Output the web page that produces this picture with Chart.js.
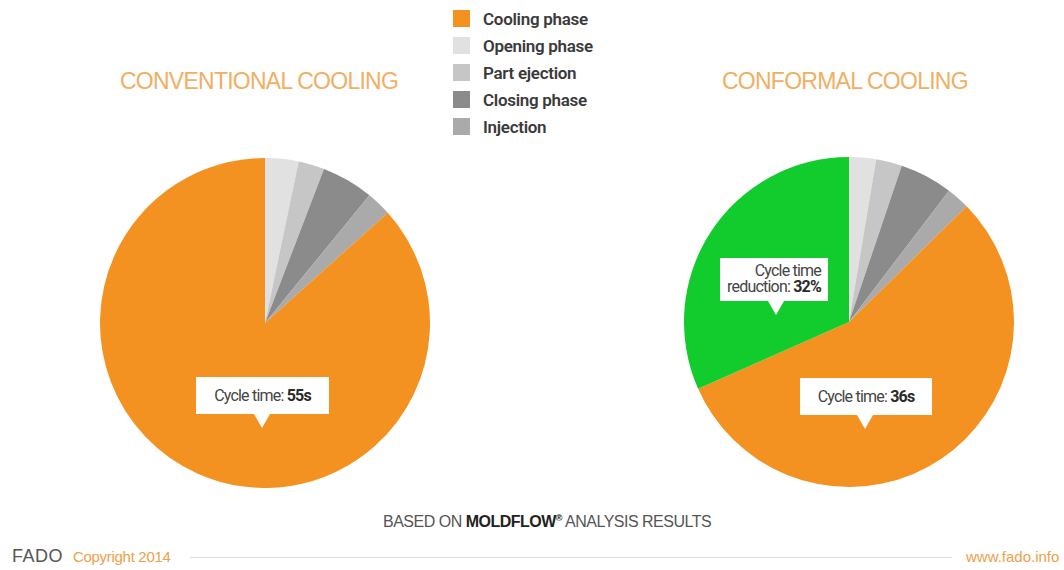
<!DOCTYPE html>
<html lang="en">
<head>
  <meta charset="UTF-8">
  <title>Conventional vs Conformal Cooling</title>
  <script src="https://cdn.jsdelivr.net/npm/chart.js"></script>
  <style>
    body { margin: 0; background: #fff; width: 1064px; height: 570px; position: relative; overflow: hidden; font-family: Roboto, "Liberation Sans", sans-serif; }
    canvas { position: absolute; }
    .title { position: absolute; top: 68px; color: #F2AE62; font-family: "Liberation Sans", sans-serif; font-size: 23px; letter-spacing: -0.75px; font-weight: 400; white-space: nowrap; }
    #legend { position: absolute; left: 453px; top: 5px; }
    .row { height: 27px; display: flex; align-items: center; }
    .sw { width: 17px; height: 17px; margin-right: 13px; }
    .row span { font-size: 17px; font-weight: 600; color: #3a3a3a; letter-spacing: -0.3px; }
    .callout { position: absolute; background: #fff; color: #444; font-size: 16px; letter-spacing: -0.8px; box-sizing: border-box; }
    .callout b { color: #2a2a2a; }
    .callout::after { content: ""; position: absolute; left: var(--tip); margin-left: -8px; bottom: -14px; border-left: 8px solid transparent; border-right: 8px solid transparent; border-top: 14px solid #fff; }
    .foot { position: absolute; font-family: "Liberation Sans", sans-serif; white-space: nowrap; }
  </style>
</head>
<body>
  <div class="title" style="left:120px">CONVENTIONAL COOLING</div>
  <div class="title" style="left:722px">CONFORMAL COOLING</div>
  <div id="legend"></div>

  <canvas id="pie-left" width="330" height="330" style="left:100px; top:158px"></canvas>
  <canvas id="pie-right" width="330" height="330" style="left:684px; top:157px"></canvas>

  <div class="callout" style="left:196px; top:377px; width:133px; height:37px; line-height:37px; text-align:center; --tip:66px">Cycle time: <b>55s</b></div>
  <div class="callout" style="left:720px; top:258px; width:108px; height:43px; padding:5px 7px 0 0; line-height:16px; text-align:right; --tip:56px">Cycle time<br>reduction: <b>32%</b></div>
  <div class="callout" style="left:800px; top:378px; width:132px; height:37px; line-height:37px; text-align:center; --tip:65px">Cycle time: <b>36s</b></div>

  <div class="foot" style="left:383px; top:513px; font-size:16px; color:#555; letter-spacing:-0.5px">BASED ON <b style="color:#222">MOLDFLOW<sup style="font-size:9px">®</sup></b> ANALYSIS RESULTS</div>
  <div class="foot" style="left:12px; top:546px; font-size:18px; color:#555; letter-spacing:0.5px; font-weight:300">FADO</div>
  <div class="foot" style="left:73px; top:548px; font-size:15px; color:#F0A04A; letter-spacing:-0.3px">Copyright 2014</div>
  <div class="foot" style="left:190px; top:557px; width:762px; height:1px; background:#ddd"></div>
  <div class="foot" style="left:966px; top:548px; font-size:15px; color:#F0A04A; letter-spacing:0px">www.fado.info</div>

  <script>
    // slices drawn clockwise from 12 o'clock, values in seconds
    const phases = ["Opening phase", "Part ejection", "Closing phase", "Injection", "Cooling phase"];
    const conventional = [1.8, 1.4, 2.8, 1.35, 47.65];
    const conformal = [1.45, 1.4, 2.85, 1.25, 30.65, 17.4];   // last = saved time (reduction)
    const phaseColors = ["#E1E1E1", "#C6C6C6", "#8B8B8B", "#AAAAAA", "#F39220"];
    const reductionColor = "#12CB2C";

    // legend order as in the original slide
    const legendOrder = ["Cooling phase", "Opening phase", "Part ejection", "Closing phase", "Injection"];

    const legend = document.getElementById("legend");
    legendOrder.forEach(name => {
      const row = document.createElement("div");
      row.className = "row";
      row.innerHTML = `<div class="sw" style="background:${phaseColors[phases.indexOf(name)]}"></div><span>${name}</span>`;
      legend.appendChild(row);
    });

    function makePie(id, labels, values, colors) {
      return new Chart(document.getElementById(id), {
        type: 'pie',
        data: {
          labels: labels,
          datasets: [{ data: values, backgroundColor: colors, borderWidth: 0, hoverOffset: 0 }]
        },
        options: {
          responsive: false,
          animation: false,
          events: [],
          layout: { padding: 0 },
          plugins: { legend: { display: false }, tooltip: { enabled: false } }
        }
      });
    }

    makePie("pie-left", phases, conventional, phaseColors);
    makePie("pie-right", [...phases, "Cycle time reduction"], conformal, [...phaseColors, reductionColor]);
  </script>
</body>
</html>
